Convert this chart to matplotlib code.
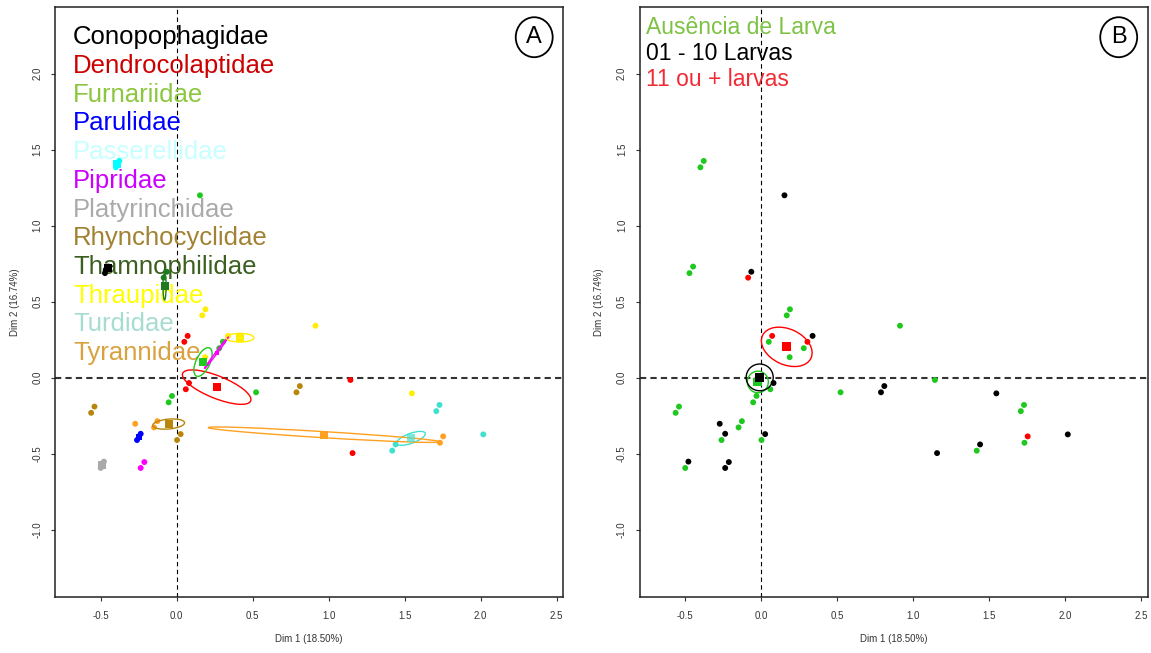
import matplotlib
matplotlib.use('Agg')
import matplotlib.pyplot as plt
from matplotlib.patches import Ellipse

plt.rcParams['font.family'] = ['Liberation Sans', 'DejaVu Sans']

# Families (panel A legend) and their colours
families = ['Conopophagidae', 'Dendrocolaptidae', 'Furnariidae', 'Parulidae',
            'Passerellidae', 'Pipridae', 'Platyrinchidae', 'Rhynchocyclidae',
            'Thamnophilidae', 'Thraupidae', 'Turdidae', 'Tyrannidae']
family_text_colors = ['#000000', '#cc0000', '#8cc63f', '#0000ff', '#c8ffff', '#cc00ff',
                      '#aaaaaa', '#a08232', '#3a5f1e', '#ffff00', '#a6ddd0', '#d9a23f']
family_point_colors = ['#000000', '#ff0000', '#1ec81e', '#0000ff', '#00ffff', '#ff00ff',
                       '#aaaaaa', '#b8860b', '#1e7b1e', '#ffee00', '#40e0d0', '#ffa020']

# Larvae classes (panel B legend)
larva_classes = ['Ausência de Larva', '01 - 10 Larvas', '11 ou + larvas']
larva_text_colors = ['#7dc242', '#000000', '#f02b36']
larva_point_colors = ['#1ec81e', '#000000', '#ff0000']

# Individuals: coordinates on Dim 1 / Dim 2, family index, larvae class index
dim1 = [-0.448, -0.472, 0.072, 0.050, 0.081, 0.060, 1.143, 1.157,
        0.153, -0.031, -0.053, 0.522, 0.280, 0.304,
        -0.237, -0.261, -0.378, -0.400, -0.213, -0.237, -0.479, -0.500,
        -0.541, -0.563, 0.026, 0.002, 0.810, 0.788,
        -0.065, -0.086, 0.189, 0.168, 0.913, 1.547, 0.338, 0.187,
        1.440, 1.418, 1.729, 1.708, 2.017,
        -0.273, -0.127, -0.149, 1.753, 1.732]
dim2 = [0.731, 0.688, 0.275, 0.236, -0.035, -0.076, -0.015, -0.496,
        1.200, -0.120, -0.162, -0.096, 0.194, 0.236,
        -0.369, -0.410, 1.426, 1.384, -0.555, -0.594, -0.552, -0.594,
        -0.190, -0.231, -0.371, -0.410, -0.055, -0.096,
        0.697, 0.658, 0.450, 0.410, 0.342, -0.103, 0.275, 0.135,
        -0.439, -0.480, -0.179, -0.220, -0.373,
        -0.303, -0.286, -0.327, -0.386, -0.428]
family_idx = [0, 0, 1, 1, 1, 1, 1, 1,
              2, 2, 2, 2, 2, 2,
              3, 3, 4, 4, 5, 5, 6, 6,
              7, 7, 7, 7, 7, 7,
              8, 8, 9, 9, 9, 9, 9, 9,
              10, 10, 10, 10, 10,
              11, 11, 11, 11, 11]
larva_idx = [0, 0, 2, 0, 1, 0, 0, 1,
             1, 0, 0, 0, 0, 2,
             1, 0, 0, 0, 1, 1, 1, 0,
             0, 0, 1, 0, 1, 1,
             1, 2, 0, 0, 0, 1, 1, 0,
             1, 0, 0, 0, 1,
             1, 0, 0, 2, 0]

# Category centres and confidence ellipses (width, height, angle) - panel A
fam_cx = [-0.455, 0.263, 0.173, -0.247, -0.390, 0.262, -0.490, -0.053, -0.080, 0.416, 1.541, 0.971]
fam_cy = [0.720, -0.062, 0.103, -0.389, 1.405, 0.165, -0.573, -0.305, 0.600, 0.263, -0.399, -0.375]
fam_ew = [0.060, 0.483, 0.204, 0.030, 0.030, 0.262, 0.040, 0.210, 0.020, 0.184, 0.200, 1.530]
fam_eh = [0.030, 0.147, 0.092, 0.010, 0.020, 0.012, 0.030, 0.065, 0.177, 0.057, 0.065, 0.040]
fam_ea = [30, -22, 65, 60, 0, 53, 0, 5, 0, 0, 20, -3.5]

# Category centres and ellipses - panel B
lar_cx = [-0.022, -0.010, 0.168]
lar_cy = [-0.028, 0.002, 0.203]
lar_ew = [0.138, 0.178, 0.352]
lar_eh = [0.142, 0.176, 0.234]
lar_ea = [0, 0, -25]

xticks = [-0.5, 0.0, 0.5, 1.0, 1.5, 2.0, 2.5]
yticks = [-1.0, -0.5, 0.0, 0.5, 1.0, 1.5, 2.0]

W, H = 1151, 653
fig = plt.figure(figsize=(W / 100, H / 100), dpi=100)


def make_axes(left_px):
    ax = fig.add_axes([left_px / W, (H - 597.3) / H, 508.3 / W, 590 / H])
    ax.set_xlim(-0.8007, 2.5434)
    ax.set_ylim(-1.4447, 2.4368)
    ax.set_xticks(xticks)
    ax.set_yticks(yticks)
    ax.set_xticklabels([f'{t:.1f}' for t in xticks])
    ax.set_yticklabels([f'{t:.1f}' for t in yticks], rotation=90, va='center')
    ax.tick_params(length=3, width=0.8, color='#333333', labelsize=7,
                   labelcolor='#333333')
    ax.tick_params(axis='x', pad=7)
    ax.tick_params(axis='y', pad=6)
    for s in ax.spines.values():
        s.set_color('#222222')
        s.set_linewidth(1.1)
    ax.set_xlabel('Dim 1 (18.50%)', fontsize=7, color='#333333')
    ax.set_ylabel('Dim 2 (16.74%)', fontsize=7, color='#333333')
    ax.xaxis.set_label_coords(0.5, -0.0707)
    ax.xaxis.label.set_va('center')
    ax.yaxis.set_label_coords(-0.0787, 0.5)
    ax.yaxis.label.set_va('center')
    ax.axvline(0, color='black', lw=0.8, ls=(0, (4, 3)), zorder=1)
    ax.axhline(0, color='#333333', lw=1.5, ls=(0, (3, 2)), zorder=1)
    return ax


def panel_tag(ax, letter):
    ax.add_patch(Ellipse((2.352, 2.240), 0.243, 0.263, fill=False,
                         lw=1.3, color='black', zorder=6))
    ax.text(2.352, 2.240, letter, fontsize=17, ha='center', va='center', zorder=6)


# ---- Panel A: families
axA = make_axes(55)
# centre markers: the Parulidae one sits under its points, Pipridae is a small tick
sq_size = [40] * len(families)
sq_size[3] = 14
sq_size[5] = 10
sq_alpha = [1.0] * len(families)
sq_alpha[10] = 0.7
for k in range(len(families)):
    axA.scatter(fam_cx[k], fam_cy[k], s=sq_size[k], marker='s', linewidths=0,
                color=family_point_colors[k], alpha=sq_alpha[k],
                zorder=2.5 if k == 3 else 5)
axA.scatter(dim1, dim2, s=18, linewidths=0,
            c=[family_point_colors[i] for i in family_idx], zorder=3)
for k in range(len(families)):
    axA.add_patch(Ellipse((fam_cx[k], fam_cy[k]), fam_ew[k], fam_eh[k], angle=fam_ea[k],
                          fill=False, lw=1.0, color=family_point_colors[k], zorder=4))
for k, name in enumerate(families):
    axA.text(-0.682, 2.193 - 0.1888 * k, name, fontsize=18.5,
             color=family_text_colors[k], va='baseline', ha='left', zorder=2)
panel_tag(axA, 'A')

# ---- Panel B: larvae counts
axB = make_axes(639.5)
axB.scatter(dim1, dim2, s=18, linewidths=0,
            c=[larva_point_colors[i] for i in larva_idx], zorder=3)
for k in range(len(larva_classes)):
    axB.add_patch(Ellipse((lar_cx[k], lar_cy[k]), lar_ew[k], lar_eh[k], angle=lar_ea[k],
                          fill=False, lw=1.0, color=larva_point_colors[k], zorder=4))
axB.scatter(lar_cx, lar_cy, s=40, marker='s', linewidths=0,
            c=larva_point_colors, zorder=5)
for k, name in enumerate(larva_classes):
    axB.text(-0.755, 2.261 - 0.172 * k, name, fontsize=16.5,
             color=larva_text_colors[k], va='baseline', ha='left', zorder=2)
panel_tag(axB, 'B')

fig.savefig('out.png', dpi=100)
plt.close(fig)
